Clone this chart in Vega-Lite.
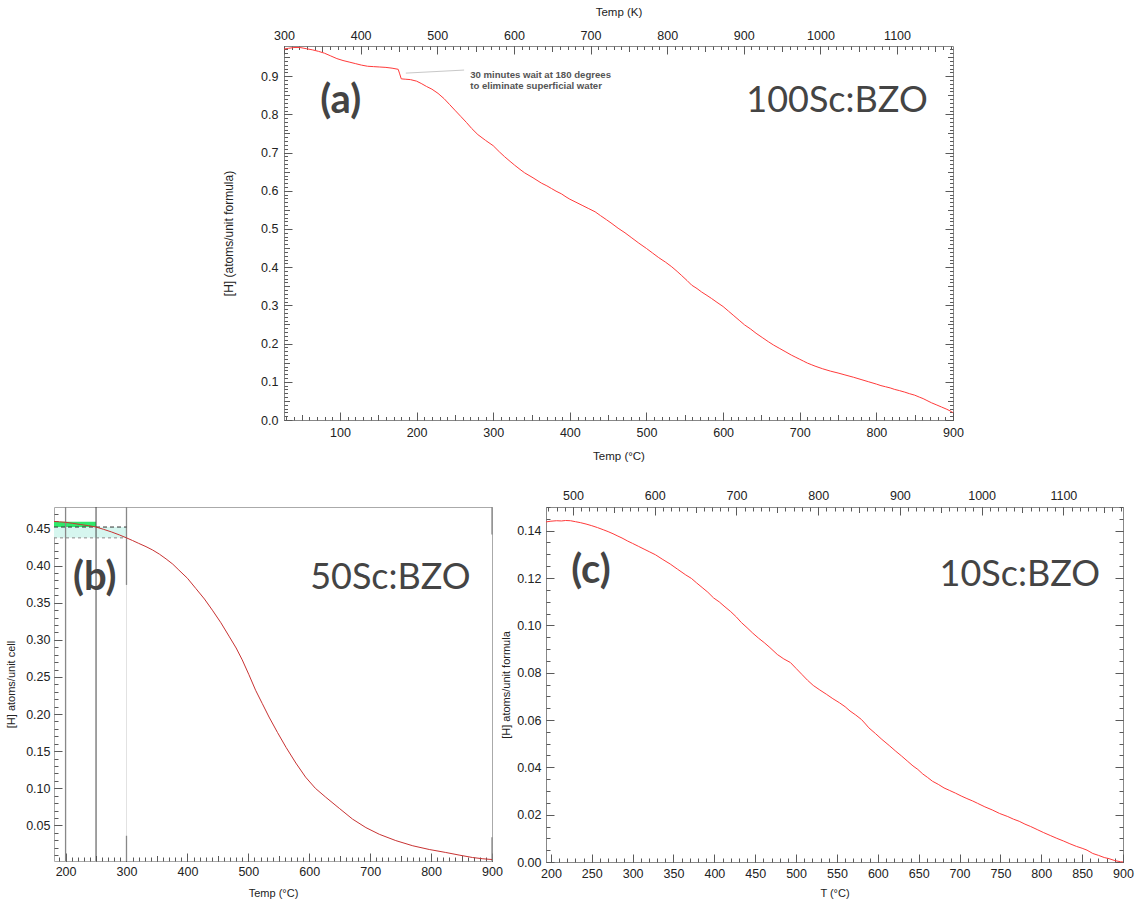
{
"$schema": "https://vega.github.io/schema/vega-lite/v6.json",
"background": "white",
"padding": {"left": 5, "top": 5, "right": 5, "bottom": 5},
"config": {
  "view": {"stroke": "#888", "strokeWidth": 1},
  "axis": {"zindex": 1, "domain": false, "grid": false, "labelFlush": false, "labelOverlap": false, "labelFont": "Liberation Sans", "labelFontSize": 12.5, "labelColor": "#222", "titleFont": "Liberation Sans", "titleFontSize": 11.5, "titleFontWeight": "normal", "titleColor": "#222", "tickColor": "#5a5a5a", "tickWidth": 1}
},
"datasets": {
  "a": [
{"T":27,"H":0.971},{"T":33,"H":0.973},{"T":40,"H":0.975},{"T":48,"H":0.975},{"T":56,"H":0.972},{"T":64,"H":0.969},{"T":72,"H":0.965},{"T":80,"H":0.960},{"T":88,"H":0.953},{"T":96,"H":0.946},{"T":104,"H":0.941},{"T":112,"H":0.937},{"T":120,"H":0.933},{"T":128,"H":0.929},{"T":136,"H":0.926},{"T":144,"H":0.925},{"T":152,"H":0.924},{"T":160,"H":0.923},{"T":168,"H":0.921},{"T":176,"H":0.918},{"T":178,"H":0.906},{"T":180,"H":0.893},{"T":186,"H":0.892},{"T":192,"H":0.891},{"T":200,"H":0.887},{"T":206,"H":0.881},{"T":213,"H":0.873},{"T":220,"H":0.866},{"T":228,"H":0.855},{"T":236,"H":0.841},{"T":243,"H":0.826},{"T":250,"H":0.811},{"T":258,"H":0.794},{"T":265,"H":0.779},{"T":272,"H":0.763},{"T":280,"H":0.747},{"T":290,"H":0.732},{"T":300,"H":0.718},{"T":308,"H":0.702},{"T":315,"H":0.689},{"T":322,"H":0.677},{"T":328,"H":0.667},{"T":335,"H":0.656},{"T":341,"H":0.647},{"T":352,"H":0.634},{"T":363,"H":0.620},{"T":370,"H":0.613},{"T":376,"H":0.606},{"T":382,"H":0.599},{"T":389,"H":0.592},{"T":395,"H":0.584},{"T":400,"H":0.578},{"T":408,"H":0.570},{"T":416,"H":0.562},{"T":424,"H":0.554},{"T":433,"H":0.545},{"T":440,"H":0.535},{"T":448,"H":0.524},{"T":455,"H":0.514},{"T":463,"H":0.502},{"T":472,"H":0.490},{"T":480,"H":0.478},{"T":490,"H":0.463},{"T":500,"H":0.449},{"T":508,"H":0.437},{"T":516,"H":0.425},{"T":525,"H":0.413},{"T":533,"H":0.401},{"T":540,"H":0.389},{"T":546,"H":0.378},{"T":553,"H":0.365},{"T":559,"H":0.353},{"T":566,"H":0.344},{"T":572,"H":0.335},{"T":579,"H":0.326},{"T":585,"H":0.318},{"T":592,"H":0.308},{"T":600,"H":0.297},{"T":607,"H":0.285},{"T":614,"H":0.273},{"T":621,"H":0.261},{"T":628,"H":0.249},{"T":636,"H":0.238},{"T":643,"H":0.227},{"T":651,"H":0.216},{"T":659,"H":0.205},{"T":666,"H":0.196},{"T":674,"H":0.187},{"T":682,"H":0.178},{"T":689,"H":0.170},{"T":695,"H":0.164},{"T":700,"H":0.159},{"T":705,"H":0.154},{"T":710,"H":0.149},{"T":715,"H":0.145},{"T":720,"H":0.141},{"T":730,"H":0.134},{"T":740,"H":0.128},{"T":750,"H":0.123},{"T":759,"H":0.118},{"T":770,"H":0.112},{"T":780,"H":0.106},{"T":790,"H":0.100},{"T":800,"H":0.094},{"T":806,"H":0.090},{"T":812,"H":0.087},{"T":818,"H":0.084},{"T":824,"H":0.080},{"T":830,"H":0.077},{"T":837,"H":0.073},{"T":843,"H":0.069},{"T":850,"H":0.065},{"T":856,"H":0.060},{"T":861,"H":0.056},{"T":866,"H":0.051},{"T":872,"H":0.045},{"T":878,"H":0.040},{"T":885,"H":0.034},{"T":892,"H":0.028},{"T":898,"H":0.022},{"T":900,"H":0.019}
  ],
  "kA": [{"K":300,"H":0.5},{"K":1173,"H":0.5}],
  "leadA": [{"T":186,"H":0.908,"T2":262,"H2":0.916}],
  "annA": [{"T":270,"H":0.902,"txt":["30 minutes wait at 180 degrees","to eliminate superficial water"]}],
  "tagA": [{"T":101,"H":0.835,"txt":"(a)"}],
  "nameA": [{"T":867,"H":0.835,"txt":"100Sc:BZO"}],
  "b": [
{"T":181,"H":0.4595},{"T":190,"H":0.4590},{"T":200,"H":0.4584},{"T":211,"H":0.4571},{"T":225,"H":0.4553},{"T":238,"H":0.4538},{"T":250,"H":0.4520},{"T":262,"H":0.4490},{"T":275,"H":0.4455},{"T":288,"H":0.4415},{"T":300,"H":0.4374},{"T":310,"H":0.4338},{"T":320,"H":0.4300},{"T":332,"H":0.4256},{"T":343,"H":0.4210},{"T":354,"H":0.4155},{"T":365,"H":0.4090},{"T":376,"H":0.4020},{"T":386,"H":0.3940},{"T":400,"H":0.3830},{"T":414,"H":0.3690},{"T":428,"H":0.3550},{"T":441,"H":0.3400},{"T":455,"H":0.3230},{"T":469,"H":0.3040},{"T":480,"H":0.2890},{"T":490,"H":0.2730},{"T":501,"H":0.2530},{"T":512,"H":0.2320},{"T":523,"H":0.2140},{"T":534,"H":0.1960},{"T":548,"H":0.1750},{"T":562,"H":0.1550},{"T":578,"H":0.1340},{"T":594,"H":0.1150},{"T":610,"H":0.1000},{"T":627,"H":0.0880},{"T":650,"H":0.0725},{"T":671,"H":0.0585},{"T":693,"H":0.0470},{"T":715,"H":0.0380},{"T":742,"H":0.0295},{"T":770,"H":0.0225},{"T":797,"H":0.0175},{"T":824,"H":0.0135},{"T":846,"H":0.0100},{"T":868,"H":0.0067},{"T":885,"H":0.0050},{"T":900,"H":0.0040}
  ],
  "cyanB": [{"T":181,"T2":300,"H":0.4374,"H2":0.452}],
  "greenB": [{"T":181,"T2":250,"H":0.452,"H2":0.4592}],
  "r200": [{"T":200}],
  "r250": [{"T":250}],
  "r300": [{"T":300}],
  "segB": [{"T":300,"H":0.479,"H2":0.374},{"T":300,"H":0.036,"H2":0.002},{"T":900,"H":0.479,"H2":0.442},{"T":900,"H":0.034,"H2":0.002}],
  "dashHi": [{"T":181,"T2":300,"H":0.452}],
  "dashLo": [{"T":181,"T2":300,"H":0.4374}],
  "tagB": [{"T":248,"H":0.383,"txt":"(b)"}],
  "nameB": [{"T":865,"H":0.383,"txt":"50Sc:BZO"}],
  "c": [
{"T":194,"H":0.1437},{"T":200,"H":0.1440},{"T":207,"H":0.1442},{"T":213,"H":0.1441},{"T":218,"H":0.1443},{"T":224,"H":0.1442},{"T":230,"H":0.1438},{"T":236,"H":0.1434},{"T":243,"H":0.1428},{"T":250,"H":0.1421},{"T":257,"H":0.1413},{"T":264,"H":0.1404},{"T":270,"H":0.1396},{"T":276,"H":0.1387},{"T":282,"H":0.1377},{"T":287,"H":0.1369},{"T":294,"H":0.1356},{"T":300,"H":0.1346},{"T":307,"H":0.1334},{"T":314,"H":0.1322},{"T":321,"H":0.1310},{"T":328,"H":0.1298},{"T":337,"H":0.1278},{"T":346,"H":0.1259},{"T":355,"H":0.1237},{"T":365,"H":0.1213},{"T":372,"H":0.1198},{"T":378,"H":0.1180},{"T":385,"H":0.1160},{"T":392,"H":0.1140},{"T":399,"H":0.1116},{"T":406,"H":0.1099},{"T":413,"H":0.1078},{"T":420,"H":0.1058},{"T":427,"H":0.1035},{"T":433,"H":0.1012},{"T":440,"H":0.0990},{"T":447,"H":0.0967},{"T":454,"H":0.0946},{"T":461,"H":0.0927},{"T":468,"H":0.0906},{"T":477,"H":0.0877},{"T":485,"H":0.0858},{"T":493,"H":0.0843},{"T":500,"H":0.0818},{"T":507,"H":0.0793},{"T":514,"H":0.0768},{"T":521,"H":0.0746},{"T":529,"H":0.0727},{"T":537,"H":0.0709},{"T":545,"H":0.0690},{"T":553,"H":0.0673},{"T":560,"H":0.0656},{"T":566,"H":0.0638},{"T":573,"H":0.0621},{"T":580,"H":0.0602},{"T":585,"H":0.0583},{"T":589,"H":0.0567},{"T":597,"H":0.0543},{"T":605,"H":0.0518},{"T":614,"H":0.0492},{"T":622,"H":0.0468},{"T":629,"H":0.0448},{"T":636,"H":0.0427},{"T":643,"H":0.0406},{"T":649,"H":0.0391},{"T":655,"H":0.0372},{"T":661,"H":0.0357},{"T":667,"H":0.0341},{"T":674,"H":0.0328},{"T":681,"H":0.0313},{"T":688,"H":0.0302},{"T":695,"H":0.0291},{"T":702,"H":0.0279},{"T":709,"H":0.0268},{"T":716,"H":0.0258},{"T":722,"H":0.0248},{"T":731,"H":0.0233},{"T":740,"H":0.0220},{"T":749,"H":0.0205},{"T":759,"H":0.0192},{"T":766,"H":0.0181},{"T":773,"H":0.0172},{"T":780,"H":0.0160},{"T":787,"H":0.0150},{"T":795,"H":0.0137},{"T":803,"H":0.0124},{"T":811,"H":0.0112},{"T":819,"H":0.0100},{"T":827,"H":0.0089},{"T":835,"H":0.0077},{"T":843,"H":0.0066},{"T":850,"H":0.0058},{"T":856,"H":0.0050},{"T":863,"H":0.0036},{"T":870,"H":0.0028},{"T":877,"H":0.0019},{"T":883,"H":0.0014},{"T":890,"H":0.0006},{"T":897,"H":0.0001},{"T":900,"H":0.0}
  ],
  "kC": [{"K":467,"H":0.07},{"K":1173,"H":0.07}],
  "tagC": [{"T":249,"H":0.123,"txt":"(c)"}],
  "nameC": [{"T":872,"H":0.1213,"txt":"10Sc:BZO"}]
},
"spacing": 25,
"vconcat": [
 {
  "bounds": "flush",
  "spacing": 0,
  "hconcat": [
   {"width": 230, "height": 10, "view": {"stroke": null}, "data": {"values": [{}]}, "mark": {"type": "point", "opacity": 0}, "encoding": {}},
   {
    "width": 669, "height": 374,
    "resolve": {"scale": {"x": "independent"}, "axis": {"x": "independent", "y": "independent"}},
    "layer": [
     {"data": {"name": "a"}, "mark": {"type": "line", "color": "#ff3a3a", "strokeWidth": 1},
      "encoding": {
       "x": {"field": "T", "type": "quantitative", "scale": {"domain": [27, 900], "nice": false, "zero": false}, "axis": {"orient": "bottom", "tickCount": 9, "offset": -8, "tickSize": 8, "labelPadding": 6, "format": "d", "title": "Temp (°C)", "titlePadding": 12}},
       "y": {"field": "H", "type": "quantitative", "scale": {"domain": [0, 0.979], "nice": false, "zero": false}, "axis": {"orient": "left", "tickCount": 10, "offset": -8, "tickSize": 8, "labelPadding": 6, "format": ".1f", "title": "[H] (atoms/unit formula)", "titlePadding": 25, "titleFontSize": 12}}
      }},
     {"data": {"name": "a"}, "mark": {"type": "line", "opacity": 0},
      "encoding": {
       "x": {"field": "T", "type": "quantitative", "scale": {"domain": [27, 900], "nice": false, "zero": false}, "axis": {"orient": "bottom", "tickCount": 18, "offset": -5.5, "tickSize": 5.5, "labels": false, "title": null}},
       "y": {"field": "H", "type": "quantitative", "scale": {"domain": [0, 0.979], "nice": false, "zero": false}, "axis": {"orient": "left", "tickCount": 20, "offset": -5.5, "tickSize": 5.5, "labels": false, "title": null}}
      }},
     {"data": {"name": "a"}, "mark": {"type": "line", "opacity": 0},
      "encoding": {
       "x": {"field": "T", "type": "quantitative", "scale": {"domain": [27, 900], "nice": false, "zero": false}, "axis": {"orient": "bottom", "tickCount": 87, "offset": -3.5, "tickSize": 3.5, "labels": false, "title": null}},
       "y": {"field": "H", "type": "quantitative", "scale": {"domain": [0, 0.979], "nice": false, "zero": false}, "axis": {"orient": "left", "tickCount": 98, "offset": -3.5, "tickSize": 3.5, "labels": false, "title": null}}
      }},
     {"data": {"name": "kA"}, "mark": {"type": "point", "opacity": 0},
      "encoding": {
       "x": {"field": "K", "type": "quantitative", "scale": {"domain": [300, 1173], "nice": false, "zero": false}, "axis": {"orient": "top", "tickCount": 9, "offset": -8, "tickSize": 8, "labelPadding": 4, "format": "d", "title": "Temp (K)", "titlePadding": 12}},
       "y": {"field": "H", "type": "quantitative", "scale": {"domain": [0, 0.979], "nice": false, "zero": false}, "axis": {"orient": "right", "tickCount": 10, "offset": -8, "tickSize": 8, "labels": false, "title": null}}
      }},
     {"data": {"name": "kA"}, "mark": {"type": "point", "opacity": 0},
      "encoding": {
       "x": {"field": "K", "type": "quantitative", "scale": {"domain": [300, 1173], "nice": false, "zero": false}, "axis": {"orient": "top", "tickCount": 18, "offset": -5.5, "tickSize": 5.5, "labels": false, "title": null}},
       "y": {"field": "H", "type": "quantitative", "scale": {"domain": [0, 0.979], "nice": false, "zero": false}, "axis": {"orient": "right", "tickCount": 20, "offset": -5.5, "tickSize": 5.5, "labels": false, "title": null}}
      }},
     {"data": {"name": "kA"}, "mark": {"type": "point", "opacity": 0},
      "encoding": {
       "x": {"field": "K", "type": "quantitative", "scale": {"domain": [300, 1173], "nice": false, "zero": false}, "axis": {"orient": "top", "tickCount": 87, "offset": -3.5, "tickSize": 3.5, "labels": false, "title": null}},
       "y": {"field": "H", "type": "quantitative", "scale": {"domain": [0, 0.979], "nice": false, "zero": false}, "axis": {"orient": "right", "tickCount": 98, "offset": -3.5, "tickSize": 3.5, "labels": false, "title": null}}
      }},
     {"data": {"name": "leadA"}, "mark": {"type": "rule", "color": "#c8c8c8", "strokeWidth": 1},
      "encoding": {
       "x": {"field": "T", "type": "quantitative", "scale": {"domain": [27, 900], "nice": false, "zero": false}, "axis": null},
       "x2": {"field": "T2"},
       "y": {"field": "H", "type": "quantitative", "scale": {"domain": [0, 0.979], "nice": false, "zero": false}, "axis": null},
       "y2": {"field": "H2"}
      }},
     {"data": {"name": "annA"}, "mark": {"type": "text", "font": "Liberation Sans", "fontSize": 9.6, "fontWeight": "bold", "color": "#555", "align": "left", "baseline": "middle", "lineHeight": 10.5},
      "encoding": {
       "x": {"field": "T", "type": "quantitative", "scale": {"domain": [27, 900], "nice": false, "zero": false}, "axis": null},
       "y": {"field": "H", "type": "quantitative", "scale": {"domain": [0, 0.979], "nice": false, "zero": false}, "axis": null},
       "text": {"field": "txt"}
      }},
     {"data": {"name": "tagA"}, "mark": {"type": "text", "font": "Lato", "fontSize": 40, "fontWeight": "bold", "color": "#444", "align": "center", "baseline": "middle"},
      "encoding": {
       "x": {"field": "T", "type": "quantitative", "scale": {"domain": [27, 900], "nice": false, "zero": false}, "axis": null},
       "y": {"field": "H", "type": "quantitative", "scale": {"domain": [0, 0.979], "nice": false, "zero": false}, "axis": null},
       "text": {"field": "txt"}
      }},
     {"data": {"name": "nameA"}, "mark": {"type": "text", "font": "Lato", "fontSize": 36, "color": "#444", "align": "right", "baseline": "middle"},
      "encoding": {
       "x": {"field": "T", "type": "quantitative", "scale": {"domain": [27, 900], "nice": false, "zero": false}, "axis": null},
       "y": {"field": "H", "type": "quantitative", "scale": {"domain": [0, 0.979], "nice": false, "zero": false}, "axis": null},
       "text": {"field": "txt"}
      }}
    ]
   }
  ]
 },
 {
  "bounds": "flush",
  "spacing": 54,
  "hconcat": [
   {
    "width": 438, "height": 354,
    "view": {"stroke": "#aaa"},
    "resolve": {"axis": {"x": "independent", "y": "independent"}},
    "layer": [
     {"data": {"name": "cyanB"}, "mark": {"type": "rect", "color": "#d6f6ef"},
      "encoding": {
       "x": {"field": "T", "type": "quantitative", "scale": {"domain": [181, 900], "nice": false, "zero": false}, "axis": null},
       "x2": {"field": "T2"},
       "y": {"field": "H", "type": "quantitative", "scale": {"domain": [0.002, 0.479], "nice": false, "zero": false}, "axis": null},
       "y2": {"field": "H2"}
      }},
     {"data": {"name": "greenB"}, "mark": {"type": "rect", "color": "#2fe86a"},
      "encoding": {
       "x": {"field": "T", "type": "quantitative", "scale": {"domain": [181, 900], "nice": false, "zero": false}, "axis": null},
       "x2": {"field": "T2"},
       "y": {"field": "H", "type": "quantitative", "scale": {"domain": [0.002, 0.479], "nice": false, "zero": false}, "axis": null},
       "y2": {"field": "H2"}
      }},
     {"data": {"name": "r300"}, "mark": {"type": "rule", "color": "#e2e2e2", "strokeWidth": 1},
      "encoding": {"x": {"field": "T", "type": "quantitative", "scale": {"domain": [181, 900], "nice": false, "zero": false}, "axis": null}}},
     {"data": {"name": "r200"}, "mark": {"type": "rule", "color": "#888", "strokeWidth": 1.3},
      "encoding": {"x": {"field": "T", "type": "quantitative", "scale": {"domain": [181, 900], "nice": false, "zero": false}, "axis": null}}},
     {"data": {"name": "r250"}, "mark": {"type": "rule", "color": "#444", "strokeWidth": 1},
      "encoding": {"x": {"field": "T", "type": "quantitative", "scale": {"domain": [181, 900], "nice": false, "zero": false}, "axis": null}}},
     {"data": {"name": "segB"}, "mark": {"type": "rule", "color": "#888", "strokeWidth": 1.3},
      "encoding": {
       "x": {"field": "T", "type": "quantitative", "scale": {"domain": [181, 900], "nice": false, "zero": false}, "axis": null},
       "y": {"field": "H", "type": "quantitative", "scale": {"domain": [0.002, 0.479], "nice": false, "zero": false}, "axis": null},
       "y2": {"field": "H2"}
      }},
     {"data": {"name": "dashLo"}, "mark": {"type": "rule", "color": "#888", "strokeWidth": 1, "strokeDash": [3, 3]},
      "encoding": {
       "x": {"field": "T", "type": "quantitative", "scale": {"domain": [181, 900], "nice": false, "zero": false}, "axis": null},
       "x2": {"field": "T2"},
       "y": {"field": "H", "type": "quantitative", "scale": {"domain": [0.002, 0.479], "nice": false, "zero": false}, "axis": null}
      }},
     {"data": {"name": "dashHi"}, "mark": {"type": "rule", "color": "#333", "strokeWidth": 1, "strokeDash": [4, 3]},
      "encoding": {
       "x": {"field": "T", "type": "quantitative", "scale": {"domain": [181, 900], "nice": false, "zero": false}, "axis": null},
       "x2": {"field": "T2"},
       "y": {"field": "H", "type": "quantitative", "scale": {"domain": [0.002, 0.479], "nice": false, "zero": false}, "axis": null}
      }},
     {"data": {"name": "b"}, "mark": {"type": "line", "color": "#c83232", "strokeWidth": 1},
      "encoding": {
       "x": {"field": "T", "type": "quantitative", "scale": {"domain": [181, 900], "nice": false, "zero": false}, "axis": {"orient": "bottom", "tickCount": 7, "offset": -8, "tickSize": 8, "labelPadding": 4.5, "format": "d", "title": "Temp (°C)", "titlePadding": 9, "titleFontSize": 11}},
       "y": {"field": "H", "type": "quantitative", "scale": {"domain": [0.002, 0.479], "nice": false, "zero": false}, "axis": {"orient": "left", "tickCount": 10, "offset": -8, "tickSize": 8, "labelPadding": 4, "format": ".2f", "title": "[H] atoms/unit cell", "titlePadding": 9, "titleFontSize": 11}}
      }},
     {"data": {"name": "b"}, "mark": {"type": "line", "opacity": 0},
      "encoding": {
       "x": {"field": "T", "type": "quantitative", "scale": {"domain": [181, 900], "nice": false, "zero": false}, "axis": {"orient": "bottom", "tickCount": 14, "offset": -5.5, "tickSize": 5.5, "labels": false, "title": null}},
       "y": {"field": "H", "type": "quantitative", "scale": {"domain": [0.002, 0.479], "nice": false, "zero": false}, "axis": {"orient": "left", "tickCount": 48, "offset": -4, "tickSize": 4, "labels": false, "title": null}}
      }},
     {"data": {"name": "b"}, "mark": {"type": "line", "opacity": 0},
      "encoding": {
       "x": {"field": "T", "type": "quantitative", "scale": {"domain": [181, 900], "nice": false, "zero": false}, "axis": {"orient": "bottom", "tickCount": 72, "offset": -4, "tickSize": 4, "labels": false, "title": null}},
       "y": {"field": "H", "type": "quantitative", "scale": {"domain": [0.002, 0.479], "nice": false, "zero": false}, "axis": null}
      }},
     {"data": {"name": "tagB"}, "mark": {"type": "text", "font": "Lato", "fontSize": 40, "fontWeight": "bold", "color": "#444", "align": "center", "baseline": "middle"},
      "encoding": {
       "x": {"field": "T", "type": "quantitative", "scale": {"domain": [181, 900], "nice": false, "zero": false}, "axis": null},
       "y": {"field": "H", "type": "quantitative", "scale": {"domain": [0.002, 0.479], "nice": false, "zero": false}, "axis": null},
       "text": {"field": "txt"}
      }},
     {"data": {"name": "nameB"}, "mark": {"type": "text", "font": "Lato", "fontSize": 36, "color": "#444", "align": "right", "baseline": "middle"},
      "encoding": {
       "x": {"field": "T", "type": "quantitative", "scale": {"domain": [181, 900], "nice": false, "zero": false}, "axis": null},
       "y": {"field": "H", "type": "quantitative", "scale": {"domain": [0.002, 0.479], "nice": false, "zero": false}, "axis": null},
       "text": {"field": "txt"}
      }}
    ]
   },
   {
    "width": 577, "height": 355,
    "resolve": {"scale": {"x": "independent"}, "axis": {"x": "independent", "y": "independent"}},
    "layer": [
     {"data": {"name": "c"}, "mark": {"type": "line", "color": "#ff3a3a", "strokeWidth": 1},
      "encoding": {
       "x": {"field": "T", "type": "quantitative", "scale": {"domain": [194, 900], "nice": false, "zero": false}, "axis": {"orient": "bottom", "tickCount": 14, "offset": -8, "tickSize": 8, "labelPadding": 5, "format": "d", "title": "T (°C)", "titlePadding": 8, "titleFontSize": 11}},
       "y": {"field": "H", "type": "quantitative", "scale": {"domain": [0, 0.15], "nice": false, "zero": false}, "axis": {"orient": "left", "tickCount": 8, "offset": -8, "tickSize": 8, "labelPadding": 5, "format": ".2f", "title": "[H] atoms/unit formula", "titlePadding": 5, "titleFontSize": 11}}
      }},
     {"data": {"name": "c"}, "mark": {"type": "line", "opacity": 0},
      "encoding": {
       "x": {"field": "T", "type": "quantitative", "scale": {"domain": [194, 900], "nice": false, "zero": false}, "axis": {"orient": "bottom", "tickCount": 71, "offset": -4, "tickSize": 4, "labels": false, "title": null}},
       "y": {"field": "H", "type": "quantitative", "scale": {"domain": [0, 0.15], "nice": false, "zero": false}, "axis": {"orient": "left", "tickCount": 30, "offset": -4, "tickSize": 4, "labels": false, "title": null}}
      }},
     {"data": {"name": "kC"}, "mark": {"type": "point", "opacity": 0},
      "encoding": {
       "x": {"field": "K", "type": "quantitative", "scale": {"domain": [467, 1173], "nice": false, "zero": false}, "axis": {"orient": "top", "tickCount": 7, "offset": -8, "tickSize": 8, "labelPadding": 5, "format": "d", "title": null}},
       "y": {"field": "H", "type": "quantitative", "scale": {"domain": [0, 0.15], "nice": false, "zero": false}, "axis": {"orient": "right", "tickCount": 8, "offset": -8, "tickSize": 8, "labels": false, "title": null}}
      }},
     {"data": {"name": "kC"}, "mark": {"type": "point", "opacity": 0},
      "encoding": {
       "x": {"field": "K", "type": "quantitative", "scale": {"domain": [467, 1173], "nice": false, "zero": false}, "axis": {"orient": "top", "tickCount": 14, "offset": -5.5, "tickSize": 5.5, "labels": false, "title": null}},
       "y": {"field": "H", "type": "quantitative", "scale": {"domain": [0, 0.15], "nice": false, "zero": false}, "axis": {"orient": "right", "tickCount": 30, "offset": -4, "tickSize": 4, "labels": false, "title": null}}
      }},
     {"data": {"name": "kC"}, "mark": {"type": "point", "opacity": 0},
      "encoding": {
       "x": {"field": "K", "type": "quantitative", "scale": {"domain": [467, 1173], "nice": false, "zero": false}, "axis": {"orient": "top", "tickCount": 70, "offset": -4, "tickSize": 4, "labels": false, "title": null}},
       "y": {"field": "H", "type": "quantitative", "scale": {"domain": [0, 0.15], "nice": false, "zero": false}, "axis": null}
      }},
     {"data": {"name": "tagC"}, "mark": {"type": "text", "font": "Lato", "fontSize": 40, "fontWeight": "bold", "color": "#444", "align": "center", "baseline": "middle"},
      "encoding": {
       "x": {"field": "T", "type": "quantitative", "scale": {"domain": [194, 900], "nice": false, "zero": false}, "axis": null},
       "y": {"field": "H", "type": "quantitative", "scale": {"domain": [0, 0.15], "nice": false, "zero": false}, "axis": null},
       "text": {"field": "txt"}
      }},
     {"data": {"name": "nameC"}, "mark": {"type": "text", "font": "Lato", "fontSize": 36, "color": "#444", "align": "right", "baseline": "middle"},
      "encoding": {
       "x": {"field": "T", "type": "quantitative", "scale": {"domain": [194, 900], "nice": false, "zero": false}, "axis": null},
       "y": {"field": "H", "type": "quantitative", "scale": {"domain": [0, 0.15], "nice": false, "zero": false}, "axis": null},
       "text": {"field": "txt"}
      }}
    ]
   }
  ]
 }
]
}
